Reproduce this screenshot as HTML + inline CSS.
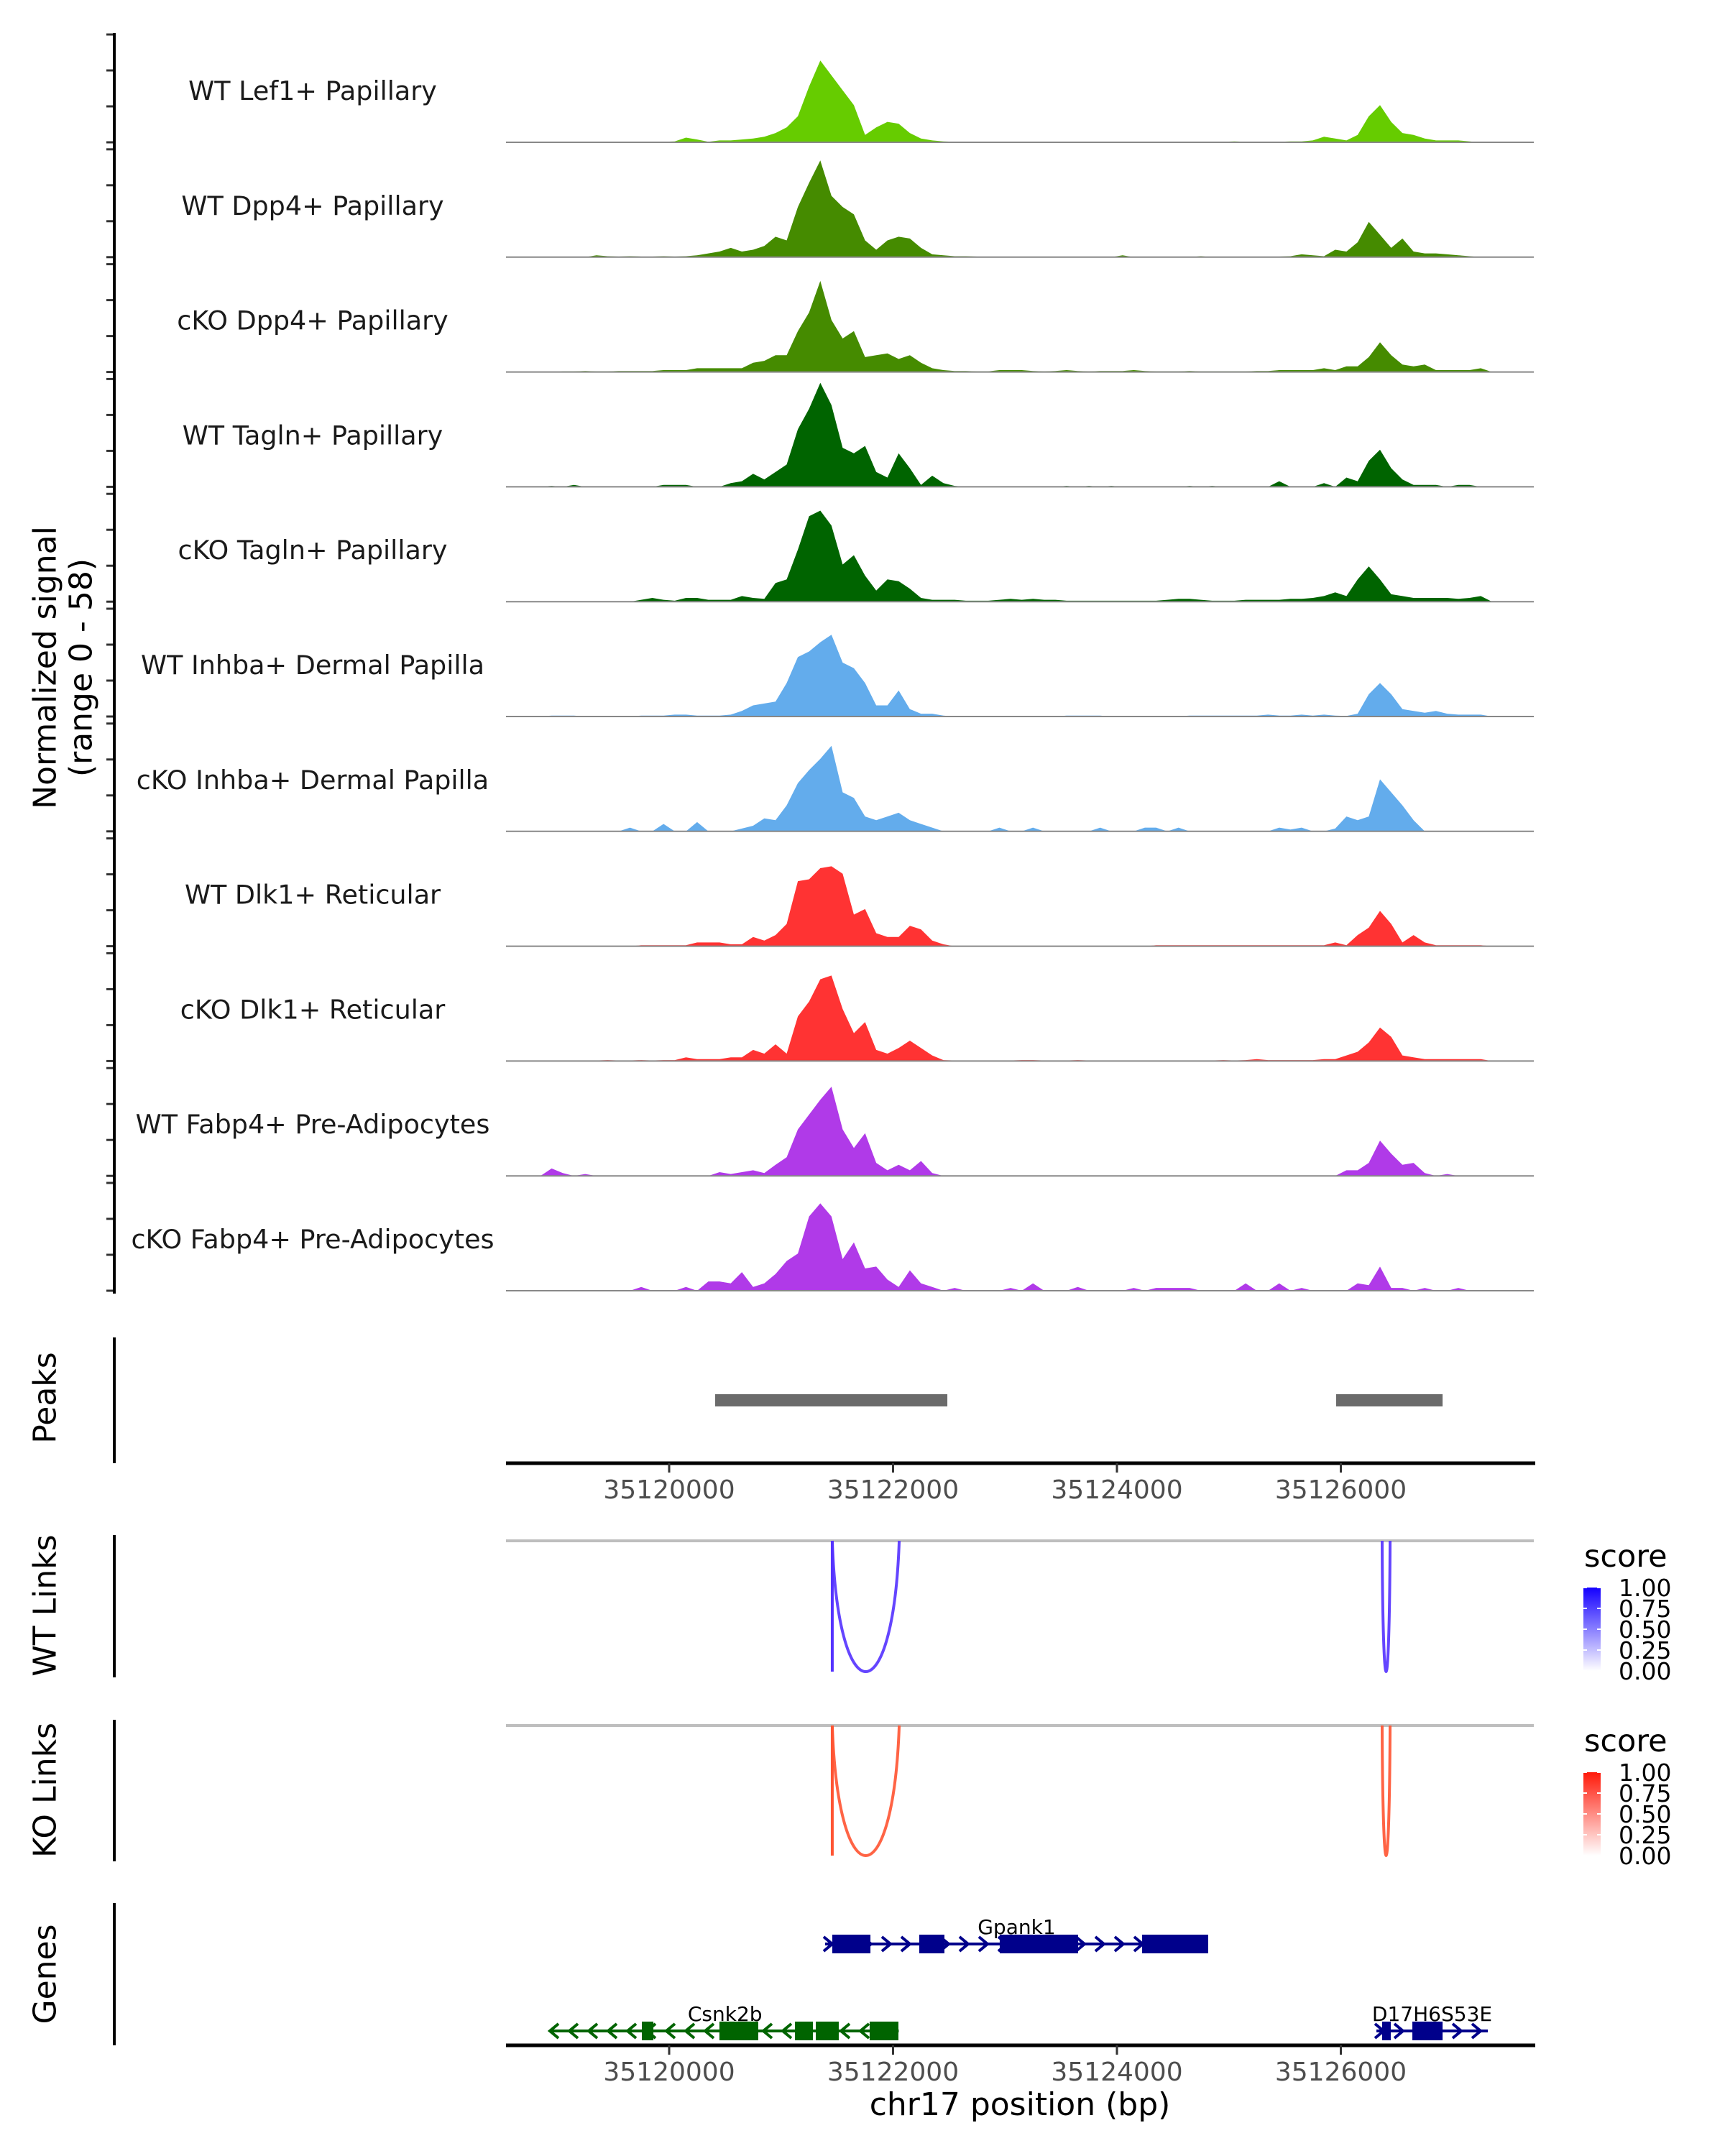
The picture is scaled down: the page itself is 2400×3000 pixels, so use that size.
<!DOCTYPE html>
<html><head><meta charset="utf-8"><style>
html,body{margin:0;padding:0;background:#fff;}
svg{display:block;font-family:"DejaVu Sans","Liberation Sans",sans-serif;}
</style></head><body>
<svg id="chart" xmlns="http://www.w3.org/2000/svg" width="2400" height="3000" viewBox="0 0 2400 3000"></svg>
<script>
// ---- data ----
const trackNames = ["WT Lef1+ Papillary","WT Dpp4+ Papillary","cKO Dpp4+ Papillary","WT Tagln+ Papillary","cKO Tagln+ Papillary","WT Inhba+ Dermal Papilla","cKO Inhba+ Dermal Papilla","WT Dlk1+ Reticular","cKO Dlk1+ Reticular","WT Fabp4+ Pre-Adipocytes","cKO Fabp4+ Pre-Adipocytes"];
const trackColors = ["#66cc00","#458b00","#458b00","#006400","#006400","#63acec","#63acec","#ff3333","#ff3333","#b03ae8","#b03ae8"];
const binStart = 35118850; // center of first 100bp bin
const binSize = 100;
const sigLef1 = [0,0,0,0,0,0,0,0.3,0.3,0.3, 0.3,0.3,0.5,2.5,1.5,0.3,1,1,1.5,2, 3,5,8,14,30,44,36,28,20,4, 8,11,10,5,2,1,0.5,0.3,0.3,0.3, 0.3,0.3,0.3,0.3,0.3,0.3,0.3,0.3,0.3,0.3, 0.3,0.3,0.3,0.3,0.3,0.3,0.3,0.3,0.3,0.3, 0.3,0.3,0.5,0.3,0.3,0.3,0.3,0.5,0.5,1, 3,2,1,4,14,20,11,5,4,2, 1,1,1,0.5,0,0];
const sigDpp4WT = [0,0,0,0,0,1,0.5,0.3,0.5,0.3, 0.3,0.5,0.3,0.5,1,2,3,5,3,4, 6,11,9,27,40,52,33,27,23,9, 4,9,11,10,5,1.5,1,0.5,0.5,0.3, 0,0,0,0,0,0,0,0,0,0, 0,0,1,0,0,0,0,0,0,0.5, 0,0,0,0,0,0,0.3,0.5,1.5,1, 0.5,4,3,8,19,12,5,10,3,2, 2,1.5,1,0.5,0,0];
const sigDpp4KO = [0,0,0.3,0.3,0.5,0.3,0.3,0.5,0.5,0.5, 0.5,1,1,1,2,2,2,2,2,5, 6,9,9,22,32,49,28,18,22,8, 9,10,7,9,5,2,1,0.5,0.5,0.3, 0.3,1,1,1,0.5,0.3,0.5,1,0.5,0.3, 0.5,0.5,0.5,1,0.5,0.3,0.3,0.3,0.5,0.3, 0.3,0.3,0.3,0.3,0.5,0.5,1,1,1,1, 2,1,3,3,8,16,9,4,3,4, 1,1,1,1,2,0];
const sigTaglnWT = [0,0.5,0,1,0,0,0,0,0,0, 0,1,1,1,0,0,0,2,3,7, 4,8,12,31,42,56,44,21,18,22, 8,5,18,10,1,6,2,0.5,0,0, 0,0,0,0,0,0,0,0.5,0,0.5, 0,0.5,0,0,0,0,0,0,0.5,0, 0.5,0,0,0,0,0,3,0,0,0, 2,0,5,3,14,20,10,4,1,1, 1,0,1,1,0,0];
const sigTaglnKO = [0,0,0,0,0,0,0,0,0,1, 2,1,0.5,2,2,1,1,1,3,2, 1.5,10,12,28,46,49,41,20,25,14, 6,12,11,7,2,1,1,1,0.5,0.5, 0.5,1,1.5,1,1.5,1,1,0.5,0.5,0.5, 0.5,0.5,0.5,0.5,0.5,0.5,1,1.5,1.5,1, 0.5,0.5,0.5,1,1,1,1,1.5,1.5,2, 3,5,3,12,19,12,4,3,2,2, 2,2,1.5,2,3,0];
const sigInhbaWT = [0,0.5,0.5,0.5,0,0,0.3,0.3,0,0.5, 0.5,0.5,1,1,0.5,0.5,0.5,1,3,6, 7,8,18,32,35,40,44,29,26,18, 6,6,14,4,1.5,1.5,0.5,0,0,0, 0,0,0,0,0,0,0,0.5,0.5,0.5, 0.5,0,0,0,0,0,0,0,0.5,0.5, 0.5,0.5,0.5,0.5,0.5,1,0.5,0.5,1,0.5, 1,0.5,0.3,1.5,12,18,12,4,3,2, 3,1.5,1,1,1,0];
const sigInhbaKO = [0,0,0,0,0,0,0,0,2,0, 0,4,0,0,5,0,0,0,1.5,3, 7,6,14,26,33,39,46,21,18,8, 6,8,10,6,4,2,0,0,0,0, 0,2,0,0,2,0,0,0,0,0, 2,0,0,0,2,2,0,2,0,0, 0,0,0,0,0,0,2,1,2,0, 0,1.5,8,6,8,28,21,14,6,0, 0,0,0,0,0,0];
const sigDlk1WT = [0,0,0,0,0,0,0,0,0,0.5, 0.5,0.5,0.5,0.5,2,2,2,1,1,5, 3,6,12,35,36,42,43,39,17,20, 7,5,5,11,9,3,1,0,0,0, 0,0,0,0,0,0,0,0,0,0, 0,0,0,0,0,0.5,0.5,0.5,0.5,0.5, 0.5,0.5,0.5,0.5,0.5,0.5,0.5,0.5,0.5,0.5, 0.5,2,0.5,6,10,19,12,2,6,2, 0.5,0.5,0.5,0.5,0.5,0];
const sigDlk1KO = [0,0,0,0,0.3,0.3,0.5,0.3,0.3,0.5, 0.3,0.5,0.5,2,1,1,1,2,2,6, 4,9,4,24,32,44,46,28,15,21, 6,4,7,11,7,3,0.5,0.3,0.3,0.3, 0.3,0.3,0.3,0.5,0.5,0.3,0.3,0.3,0.5,0.3, 0.3,0.3,0.3,0.3,0.3,0.3,0.3,0.3,0.3,0.3, 0.3,0.5,0.3,0.5,1,0.5,0.5,0.5,0.5,0.5, 1,1,3,5,10,18,13,3,2,1, 1,1,1,1,1,0];
const sigFabp4WT = [0,4,1.5,0,1,0,0,0,0,0, 0,0,0,0,0,0,2,1,2,3, 1.5,6,10,25,33,41,48,25,15,23, 7,3,6,3,8,1.5,0,0,0,0, 0,0,0,0,0,0,0,0,0,0, 0,0,0,0,0,0,0,0,0,0, 0,0,0,0,0,0,0,0,0,0, 0,0,3,3,7,19,12,6,7,1.5, 0,1,0,0,0,0];
const sigFabp4KO = [0,0,0,0,0,0,0,0,0,2, 0,0,0,2,0,5,5,4,10,2, 4,9,16,20,40,47,40,17,26,12, 13,6,2,11,4,2,0,1.5,0,0, 0,0,1.5,0,4,0,0,0,2,0, 0,0,0,1.5,0,1.5,1.5,1.5,1.5,0, 0,0,0,4,0,0,4,0,1.5,0, 0,0,0,4,3,13,1.5,1.5,0,1.5, 0,0,1.5,0,0,0];
const signals = [sigLef1,sigDpp4WT,sigDpp4KO,sigTaglnWT,sigTaglnKO,sigInhbaWT,sigInhbaKO,sigDlk1WT,sigDlk1KO,sigFabp4WT,sigFabp4KO];
const yMax = 58;
const xTicks = [35120000,35122000,35124000,35126000];
const tickLabels = ["35120000","35122000","35124000","35126000"];
const peakStarts = [35120411,35125958];
const peakEnds = [35122485,35126909];
const wtLinkStarts = [35121457,35126369];
const wtLinkEnds = [35122055,35126440];
const wtLinkScores = [0.85,0.85];
const koLinkStarts = [35121457,35126369];
const koLinkEnds = [35122055,35126440];
const koLinkScores = [0.85,0.85];
const legendTicks = ["1.00","0.75","0.50","0.25","0.00"];
const geneNames = ["Gpank1","Csnk2b","D17H6S53E"];
const geneStrands = ["+","-","+"];
const geneRows = [0,1,1];
const geneStarts = [35121393,35118947,35126318];
const geneEnds = [35124815,35122051,35127313];
const geneColors = ["#00008b","#006400","#00008b"];
const geneExons = [
  [[35121457,35121798],[35122234,35122459],[35122953,35123653],[35124225,35124815]],
  [[35119756,35119859],[35120449,35120796],[35121124,35121284],[35121310,35121515],[35121791,35122048]],
  [[35126369,35126446],[35126639,35126909]]
];

// ---- layout ----
const NS = "http://www.w3.org/2000/svg";
const svg = document.getElementById("chart");
const X0 = 704, X1 = 2134;
function xScale(bp){ return 931 + (bp - 35120000) * 0.15575; }
const base0 = 198, trackStep = 159.8, trackH = 150;
function yScale(v, ti){ return base0 + ti*trackStep - v/yMax*trackH; }
function el(tag, attrs, parent){
  const e = document.createElementNS(NS, tag);
  for (const k in attrs) e.setAttribute(k, attrs[k]);
  (parent||svg).appendChild(e);
  return e;
}
function txt(s, attrs, parent){ const t = el("text", attrs, parent); t.textContent = s; return t; }

// ---- signal tracks ----
const tracksG = el("g", {});


signals.forEach((vals, ti) => {
  const g = el("g", {}, tracksG);
  
  
  const b = yScale(0, ti);
  let d = "M" + xScale(binStart).toFixed(1) + "," + b;
  vals.forEach((v, i) => {
    const bp = binStart + i*binSize;
    d += " L" + xScale(bp).toFixed(1) + "," + yScale(v, ti).toFixed(1);
  });
  d += " L" + xScale(binStart + (vals.length-1)*binSize).toFixed(1) + "," + b + " Z";
  const area = el("path", {d: d, fill: trackColors[ti]}, g);
  
  
  const bl = el("line", {x1: X0, x2: X1, y1: b, y2: b, stroke: "#888", "stroke-width": 2}, g);
  
  
  const lab = txt(trackNames[ti], {x: 435, y: b - 59, "text-anchor": "middle", "font-size": 36.5, fill: "#1a1a1a"}, g);
  
  
  for (let k = 0; k < 4; k++) {
    const ty = b - k*50;
    const tk = el("line", {x1: 148, x2: 159, y1: ty, y2: ty, stroke: "#333", "stroke-width": 3}, g);
    
    
  }
});

// static axes / titles
const yAxis = el("line", {x1:159, x2:159, y1:46, y2:1800, stroke:"#000", "stroke-width":4});


const yt1 = txt("Normalized signal", {x:0, y:0, transform:"translate(63,929) rotate(-90)", "text-anchor":"middle", "dominant-baseline":"central", "font-size":44, fill:"#000"});


const yt2 = txt("(range 0 - 58)", {x:0, y:0, transform:"translate(113,929) rotate(-90)", "text-anchor":"middle", "dominant-baseline":"central", "font-size":44, fill:"#000"});



function sideTitle(s, cy, y1, y2, name){
  const t = txt(s, {x:0, y:0, transform:"translate(63,"+cy+") rotate(-90)", "text-anchor":"middle", "dominant-baseline":"central", "font-size":44, fill:"#000"});
  
  
  const l = el("line", {x1:159, x2:159, y1:y1, y2:y2, stroke:"#000", "stroke-width":4});
  
  
}
sideTitle("Peaks", 1945, 1861, 2036, "peaks");
sideTitle("WT Links", 2234, 2136, 2334, "wt-links");
sideTitle("KO Links", 2491, 2393, 2590, "ko-links");
sideTitle("Genes", 2747, 2648, 2846, "genes");

// peaks
peakStarts.forEach((s, i) => {
  const r = el("rect", {x: xScale(s), y: 1940, width: xScale(peakEnds[i]) - xScale(s), height: 17, fill: "#6b6b6b"});
  
  
});

function xAxis(y, name){
  const l = el("line", {x1:X0, x2:X1+2, y1:y, y2:y, stroke:"#000", "stroke-width":5});
  
  
  xTicks.forEach((t, i) => {
    const x = xScale(t);
    const tk = el("line", {x1:x, x2:x, y1:y, y2:y+13, stroke:"#333", "stroke-width":3});
    
    
    const tl = txt(tickLabels[i], {x:x, y:y+49, "text-anchor":"middle", "font-size":36, fill:"#4d4d4d"});
    
    
  });
}
xAxis(2036, "peaks-x-axis");
xAxis(2846, "genes-x-axis");
const xt = txt("chr17 position (bp)", {x:1419, y:2943, "text-anchor":"middle", "font-size":44, fill:"#000"});



// links
function links(starts, ends, scores, top, bottom, color, name){
  const gl = el("line", {x1:X0, x2:X1, y1:top, y2:top, stroke:"#bebebe", "stroke-width":4});
  
  
  starts.forEach((s, i) => {
    const a = xScale(s), b = xScale(ends[i]);
    const w = b - a;
    const ctrlY = top + (bottom - top) * 4/3;
    const d = "M"+a+","+top+" C"+(a+w*0.09)+","+ctrlY+" "+(b-w*0.09)+","+ctrlY+" "+b+","+top;
    const p = el("path", {d:d, fill:"none", stroke:color, "stroke-width":4, "stroke-opacity": 0.4 + 0.6*scores[i]});
    
    
    if (w > 30) {
      const v = el("line", {x1:a, x2:a, y1:top, y2:bottom, stroke:color, "stroke-width":4});
      
      
    }
  });
}
links(wtLinkStarts, wtLinkEnds, wtLinkScores, 2144, 2326, "#5533ff", "wt-link");
links(koLinkStarts, koLinkEnds, koLinkScores, 2401, 2582, "#ff5533", "ko-link");

// legends
const defs = el("defs", {});
function grad(id, c){
  const g = el("linearGradient", {id:id, x1:0, y1:0, x2:0, y2:1}, defs);
  el("stop", {offset:"0", "stop-color":c}, g);
  el("stop", {offset:"1", "stop-color":"#ffffff"}, g);
}
grad("gBlue", "#1400ff");
grad("gRed", "#ff1a0a");
function legend(y0, gid, name){
  const g = el("g", {});
  
  
  const t = txt("score", {x:2204, y:y0, "font-size":43, fill:"#000"}, g);
  
  
  const top = y0 + 29;
  const r = el("rect", {x:2203, y:top, width:24, height:116, fill:"url(#"+gid+")"}, g);
  
  
  legendTicks.forEach((s, i) => {
    const ty = top + i*29;
    el("line", {x1:2203, x2:2208, y1:ty, y2:ty, stroke:"#fff", "stroke-width":2}, g);
    el("line", {x1:2222, x2:2227, y1:ty, y2:ty, stroke:"#fff", "stroke-width":2}, g);
    const l = txt(s, {x:2252, y:ty+12, "font-size":33, fill:"#000"}, g);
    
    
  });
}
legend(2180, "gBlue", "wt-score-legend");
legend(2437, "gRed", "ko-score-legend");

// genes
const rowY = [2705, 2826];
geneNames.forEach((n, gi) => {
  const g = el("g", {});
  
  
  const y = rowY[geneRows[gi]], c = geneColors[gi];
  const a = xScale(geneStarts[gi]), b = xScale(geneEnds[gi]);
  el("line", {x1:a, x2:b, y1:y, y2:y, stroke:c, "stroke-width":4}, g);
  const dir = geneStrands[gi] === "+" ? 1 : -1;
  for (let x = a + 4; x <= b; x += 27) {
    const ch = el("polyline", {points: (x - 6*dir)+","+(y-10)+" "+(x+6*dir)+","+y+" "+(x-6*dir)+","+(y+10), fill:"none", stroke:c, "stroke-width":4}, g);
    
    
  }
  geneExons[gi].forEach(ex => {
    const r = el("rect", {x:xScale(ex[0]), y:y-13, width:xScale(ex[1])-xScale(ex[0]), height:26, fill:c}, g);
    
    
  });
  const lab = txt(n, {x:(a+b)/2, y:y-14, "text-anchor":"middle", "font-size":28, fill:"#000"}, g);
  
  
});
</script>
</body></html>
